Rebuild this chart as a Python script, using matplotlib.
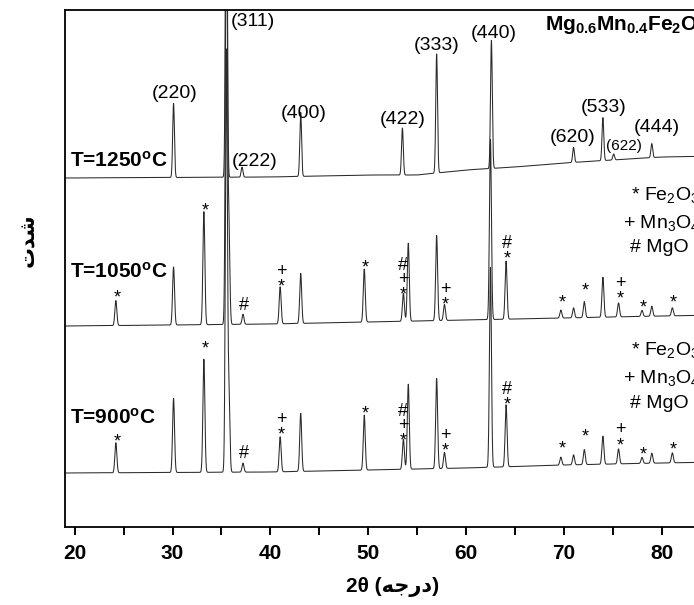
import matplotlib
matplotlib.use("Agg")
import matplotlib.pyplot as plt
import numpy as np
from matplotlib.ticker import MultipleLocator

plt.rcParams['font.family'] = ['Liberation Sans', 'DejaVu Sans']
plt.rcParams['mathtext.fontset'] = 'custom'
plt.rcParams['mathtext.rm'] = 'Liberation Sans'
plt.rcParams['mathtext.it'] = 'Liberation Sans:italic'
plt.rcParams['mathtext.bf'] = 'Liberation Sans:bold'

# ── Data (intensity in arbitrary stacked units) ─────────────────────────────
# background knots for each pattern
bg_1250_tt = [19, 40, 50, 55, 60, 65, 70, 75, 80, 86]
bg_1250 = [349, 350, 352, 352, 357, 360, 364, 367, 370, 371]
bg_1050_tt = [19, 30, 40, 50, 60, 70, 80, 86]
bg_1050 = [201, 202, 203, 205, 207, 209, 211, 212]
bg_900_tt = [19, 40, 60, 70, 80, 86]
bg_900 = [54, 55, 59, 62, 64, 65]

# peaks: position (2θ) and height above background
pk_1250_pos = [30.1, 35.5, 37.1, 43.1, 53.5, 57.0, 62.6, 71.0, 74.0, 75.1, 79.0]
pk_1250_int = [74, 420, 10, 64, 47, 119, 128, 15, 43, 6, 14]

pk_1050_pos = [24.2, 30.1, 33.2, 35.5, 35.75, 37.2, 41.0, 43.1, 49.6, 53.6, 54.1,
               57.0, 57.8, 62.5, 64.1, 69.7, 71.0, 72.1, 74.0, 75.6, 78.0, 79.0,
               81.1, 83.9]
pk_1050_int = [25, 58, 113, 420, 100, 10, 37, 50, 53, 28, 78,
               85, 16, 180, 58, 8, 10, 16, 40, 14, 6, 10,
               8, 12]

pk_900_pos = [24.2, 30.1, 33.2, 35.5, 35.75, 37.2, 41.0, 43.1, 49.6, 53.6, 54.1,
              57.0, 57.8, 62.5, 64.1, 69.7, 71.0, 72.1, 74.0, 75.6, 78.0, 79.0,
              81.1, 83.9]
pk_900_int = [30, 74, 113, 420, 80, 9, 35, 58, 55, 30, 85,
              90, 16, 200, 62, 8, 10, 15, 28, 15, 6, 10,
              10, 12]

# Miller indices of the spinel reflections (1250 °C pattern)
hkl = ["(220)", "(311)", "(222)", "(400)", "(422)", "(333)", "(440)",
       "(620)", "(533)", "(622)", "(444)"]
hkl_x = [30.2, 38.2, 38.4, 43.4, 53.5, 57.0, 62.8, 70.9, 74.1, 76.1, 79.5]
hkl_y = [433, 506, 366, 414, 407, 482, 493, 390, 420, 381, 399]

# secondary-phase markers (* Fe2O3, + Mn3O4, # MgO)
mk_sym = ["*", "*", "#", "*", "+", "*", "*", "+", "#", "*", "+", "*", "#",
          "*", "*", "*", "+", "*", "*", "*"]
mk_tt = [24.3, 33.3, 37.3, 41.1, 41.1, 49.7, 53.6, 53.6, 53.6, 57.9, 57.9,
         64.2, 64.2, 69.8, 72.2, 75.8, 75.8, 78.1, 81.2, 84.0]
mk_y_1050 = [229, 316, 222, 240, 255, 259, 232, 247, 261, 222, 237,
             268, 284, 224, 236, 228, 244, 219, 224, 236]
mk_y_900 = [85, 178, 74, 92, 108, 113, 86, 101, 115, 76, 91,
            122, 138, 78, 90, 81, 97, 72, 77, 90]

temps = ["T=1250$^{\\mathbf{o}}$C", "T=1050$^{\\mathbf{o}}$C", "T=900$^{\\mathbf{o}}$C"]
temp_y = [366, 255, 109]
phases = ["* Fe$_2$O$_3$", "+ Mn$_3$O$_4$", "# MgO"]
phases_x = [631, 623, 630]
phases_y_1050 = [332, 304, 280]
phases_y_900 = [177, 149, 124]


def pattern(tt, bg_tt, bg, pos, inten, w):
    y = np.interp(tt, bg_tt, bg)
    for p, h in zip(pos, inten):
        y = y + h * np.exp(-0.5 * ((tt - p) / w) ** 2)
    return y


tt = np.linspace(19, 86, 9000)
y1250 = pattern(tt, bg_1250_tt, bg_1250, pk_1250_pos, pk_1250_int, 0.09)
y1050 = pattern(tt, bg_1050_tt, bg_1050, pk_1050_pos, pk_1050_int, 0.10)
y900 = pattern(tt, bg_900_tt, bg_900, pk_900_pos, pk_900_int, 0.10)

# ── Figure ──────────────────────────────────────────────────────────────────
W, H = 694, 605
fig = plt.figure(figsize=(W / 100, H / 100), dpi=100)
x0, x1 = 19.0, 86.0
ppu = 9.78  # pixels per degree
ax = fig.add_axes([65 / W, 78 / H, (x1 - x0) * ppu / W, 517 / H])

for y in (y1250, y1050, y900):
    ax.plot(tt, y, color="#2a2a2a", lw=0.75)

ax.set_xlim(x0, x1)
ax.set_ylim(0, 517)
ax.set_yticks([])
ax.xaxis.set_major_locator(MultipleLocator(10))
ax.xaxis.set_minor_locator(MultipleLocator(5))
ax.tick_params(axis="x", which="both", direction="out", length=6, width=1.4,
               labelsize=15, pad=6)
for lbl in ax.get_xticklabels():
    lbl.set_fontweight("bold")
for s in ax.spines.values():
    s.set_linewidth(1.3)

# hkl labels
for t, xx, yy in zip(hkl, hkl_x, hkl_y):
    fs = 11 if t == "(622)" else 14
    ax.text(xx, yy, t, ha="center", va="center", fontsize=fs)

# phase markers
for s, xx, ya, yb in zip(mk_sym, mk_tt, mk_y_1050, mk_y_900):
    for yy in (ya, yb):
        ax.text(xx, yy, s, ha="center", va="center", fontsize=13)

# temperatures
for t, yy in zip(temps, temp_y):
    ax.text(19.5, yy, t, ha="left", va="center", fontsize=15, fontweight="bold")

# phase legends
for t, xp, ya, yb in zip(phases, phases_x, phases_y_1050, phases_y_900):
    for yy in (ya, yb):
        ax.text(x0 + (xp - 65) / ppu, yy, t, ha="left", va="center", fontsize=14)

ax.text(x0 + (545 - 65) / ppu, 502,
        "$\\mathbf{Mg_{0.6}Mn_{0.4}Fe_{2}O_{4}}$",
        ha="left", va="center", fontsize=15)

ax.set_xlabel("2\u03b8 (\uFEEA\uFE9F\uFEAD\uFEA9)", fontsize=15, fontweight="bold",
              labelpad=10)
fig.text(28 / W, 1 - 240 / H, "\uFE95\uFEAA\uFEB7", rotation=90, fontsize=15,
         fontweight="bold", ha="center", va="center",
         family=["DejaVu Sans"])

fig.savefig("out.png", dpi=100)
